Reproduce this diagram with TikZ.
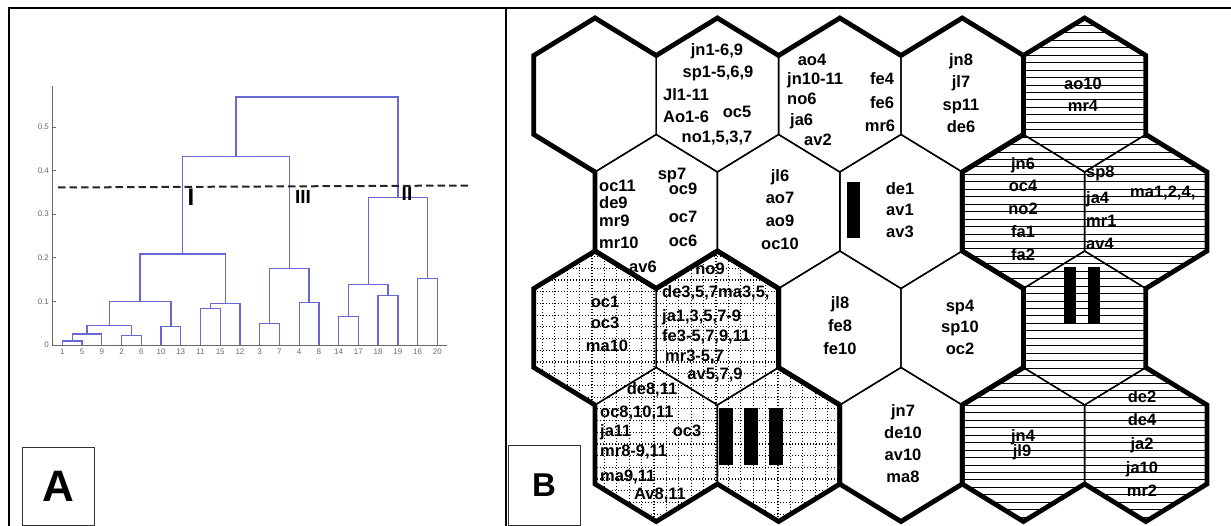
\documentclass[tikz,border=0pt]{standalone}
\usepackage{fontspec}
\setmainfont{Liberation Sans}

\definecolor{dendroblue}{RGB}{104,104,212}
\definecolor{axisgray}{RGB}{105,105,105}

\tikzset{
  frameline/.style={line width=2pt, black},
  panelbox/.style={draw=black!80, line width=1pt, inner sep=0pt},
  hexthin/.style={line width=1.4pt, black},
  hexthick/.style={line width=4.8pt, black, line join=miter},
  gridline/.style={black, line width=1.2pt, dash pattern=on 1.1pt off 1.9pt},
  stripe/.style={black, line width=1pt},
  hexlab/.style={font=\fontsize{16.5}{16.5}\selectfont\bfseries, inner sep=0pt,
                 text height=11.8pt, text depth=3.6pt},
  dendro/.style={dendroblue, line width=1.3pt},
  axisline/.style={axisgray, line width=0.9pt},
  ticklab/.style={font=\fontsize{8}{8}\selectfont, text=axisgray, inner sep=0pt},
  cutline/.style={black!85, line width=2pt, dash pattern=on 7.5pt off 4pt},
  clusterlab/.style={font=\fontsize{19}{19}\selectfont\bfseries, inner sep=0pt},
}

% contorni dei tre cluster sulla mappa
\newcommand\clusterW{(h11-nw) -- (h11-n) -- (h11-ne) -- (h12-n) -- (h12-ne) -- (h13-n)
  -- (h13-ne) -- (h14-n) -- (h14-ne) -- (h14-se) -- (h14-s) -- (h23-se) -- (h34-ne)
  -- (h34-se) -- (h34-s) -- (h43-se) -- (h43-s) -- (h43-sw) -- (h43-nw) -- (h33-sw)
  -- (h33-nw) -- (h22-sw) -- (h21-s) -- (h21-sw) -- (h21-nw) -- (h11-sw) -- cycle}
\newcommand\clusterD{(h31-n) -- (h31-ne) -- (h32-n) -- (h32-ne) -- (h32-se) -- (h42-ne)
  -- (h42-se) -- (h42-s) -- (h42-sw) -- (h41-s) -- (h41-sw) -- (h41-nw) -- (h31-sw)
  -- (h31-nw) -- cycle}
\newcommand\clusterS{(h15-n) -- (h15-ne) -- (h25-n) -- (h25-ne) -- (h25-se) -- (h25-s)
  -- (h35-se) -- (h45-ne) -- (h45-se) -- (h45-s) -- (h45-sw) -- (h44-s) -- (h44-sw)
  -- (h44-nw) -- (h44-n) -- (h35-nw) -- (h24-s) -- (h24-sw) -- (h24-nw) -- (h24-n)
  -- (h15-nw) -- cycle}

\begin{document}
\begin{tikzpicture}[x=1pt, y=-1pt]
\useasboundingbox (0,0) rectangle (1231,526);

%% ---- Cornice dei pannelli ----
\draw[frameline] (8.7,526) -- (8.7,7.7) -- (1231,7.7);
\draw[frameline] (506,7.7) -- (506,526);

%% ---- Pannello A: dendrogramma ----
\begin{scope}[shift={(42.56pt,-345pt)}, x=19.74pt, y=436pt]
  \draw[axisline] (0.478,0.594) -- (0.478,0) -- (20.49,0);
  \foreach \v [count=\i] in {0,0.1,0.2,0.3,0.4,0.5} {
    \draw[axisline] (0.478,\v) -- ++(0.18,0);
    \node[ticklab, anchor=east] (ytk\i) at (0.33,\v) {\v};
  }
  \foreach \lf [count=\k] in {1,5,9,2,6,10,13,11,15,12,3,7,4,8,14,17,18,19,16,20}
    \node[ticklab] (leaf\k) at (\k,-0.0154) {\lf};
  \foreach \xl/\yl/\xr/\yr/\h in {
      1/0/2/0/0.009, 1.5/0.009/3/0/0.025, 4/0/5/0/0.021, 2.25/0.025/4.5/0.021/0.045,
      6/0/7/0/0.042, 3.375/0.045/6.5/0.042/0.100, 8/0/9/0/0.084, 8.5/0.084/10/0/0.095,
      4.94/0.100/9.25/0.095/0.209, 11/0/12/0/0.050, 13/0/14/0/0.097,
      11.5/0.050/13.5/0.097/0.175, 7.09/0.209/12.5/0.175/0.432, 15/0/16/0/0.065,
      17/0/18/0/0.114, 15.5/0.065/17.5/0.114/0.138, 19/0/20/0/0.153,
      16.5/0.138/19.5/0.153/0.339, 9.8/0.432/18/0.339/0.569}
    \draw[dendro] (\xl,\yl) |- (\xr,\h) -- (\xr,\yr);
\end{scope}

%% ---- Linea di taglio e cluster ----
\draw[cutline] (58,187.5) -- (469,185.5);
\node[clusterlab, font=\fontsize{24}{24}\selectfont\bfseries] (labI) at (191,197) {I};
\node[clusterlab] (labIII) at (303,197) {III};
\node[clusterlab] (labII) at (407,194) {II};

\node[panelbox, minimum width=72pt, minimum height=78pt,
      font=\fontsize{44}{44}\selectfont\bfseries] (boxA) at (58,486) {A};

%% ---- Pannello B: mappa esagonale (righe 1-4, colonne 1-5) ----
\foreach \r in {1,...,4} {
  \foreach \c in {1,...,5} {
    \pgfmathsetmacro{\hx}{595+122.4*(\c-1)+61.2*(1-mod(\r,2))}
    \pgfmathsetmacro{\hy}{95+116.5*(\r-1)}
    \coordinate (h\r\c)    at (\hx,\hy);
    \coordinate (h\r\c-n)  at (\hx,\hy-77);
    \coordinate (h\r\c-ne) at (\hx+61.2,\hy-39.5);
    \coordinate (h\r\c-se) at (\hx+61.2,\hy+39.5);
    \coordinate (h\r\c-s)  at (\hx,\hy+77);
    \coordinate (h\r\c-sw) at (\hx-61.2,\hy+39.5);
    \coordinate (h\r\c-nw) at (\hx-61.2,\hy-39.5);
  }
}

%% ---- Riempimenti ----
\begin{scope}
  \clip \clusterD;
  \foreach \gx in {0,...,26} \draw[gridline] ({530+12.4*\gx},240) -- ({530+12.4*\gx},526);
  \foreach \gy in {0,...,24} \draw[gridline] (525,{245+11.7*\gy}) -- (850,{245+11.7*\gy});
\end{scope}
\begin{scope}
  \clip \clusterS;
  \foreach \sy in {0,...,68} \draw[stripe] (955,{18+7.45*\sy}) -- (1215,{18+7.45*\sy});
\end{scope}

%% ---- Bordi ----
\foreach \r in {1,...,4} \foreach \c in {1,...,5}
  \draw[hexthin] (h\r\c-n) -- (h\r\c-ne) -- (h\r\c-se) -- (h\r\c-s)
                 -- (h\r\c-sw) -- (h\r\c-nw) -- cycle;
\draw[hexthick] \clusterW;
\draw[hexthick] \clusterD;
\draw[hexthick] \clusterS;

%% ---- Barre dei cluster ----
\fill[black] (847,182) rectangle (860,238);
\fill[black] (1064,267) rectangle (1076,323);
\fill[black] (1088,267) rectangle (1100,323);
\fill[black] (719,408) rectangle (733,465);
\fill[black] (744,408) rectangle (758,465);
\fill[black] (769,408) rectangle (783,465);

%% ---- Etichette riga 1 ----
\node[hexlab] (t12a) at (717,51) {jn1-6,9};
\node[hexlab] (t12b) at (718,73) {sp1-5,6,9};
\node[hexlab, anchor=west] (t12c) at (663,96) {Jl1-11};
\node[hexlab, anchor=west] (t12d) at (663,118) {Ao1-6};
\node[hexlab] (t12e) at (737,113) {oc5};
\node[hexlab] (t12f) at (717,138) {no1,5,3,7};

\node[hexlab] (t13a) at (812,61) {ao4};
\node[hexlab, anchor=west] (t13b) at (787,80) {jn10-11};
\node[hexlab, anchor=west] (t13c) at (787,100) {no6};
\node[hexlab, anchor=west] (t13d) at (790,121) {ja6};
\node[hexlab] (t13e) at (818,141) {av2};
\node[hexlab] (t13f) at (882,80) {fe4};
\node[hexlab] (t13g) at (882,104) {fe6};
\node[hexlab] (t13h) at (880,127) {mr6};

\foreach \t [count=\i] in {jn8,jl7,sp11,de6}
  \node[hexlab] (t14\i) at (961,{61.7+22.2*(\i-1)}) {\t};
\node[hexlab] (t15a) at (1083,85) {ao10};
\node[hexlab] (t15b) at (1083,107) {mr4};

%% ---- Etichette riga 2 ----
\foreach \t/\ty [count=\i] in {oc11/187,de9/204,mr9/222,mr10/244}
  \node[hexlab, anchor=west] (t21l\i) at (599,\ty) {\t};
\node[hexlab] (t21a) at (672,175) {sp7};
\foreach \t/\ty [count=\i] in {oc9/190,oc7/218,oc6/242}
  \node[hexlab] (t21r\i) at (683,\ty) {\t};
\node[hexlab] (t21b) at (643,268) {av6};

\foreach \t [count=\i] in {jl6,ao7,ao9,oc10}
  \node[hexlab] (t22\i) at (780,{177+22.7*(\i-1)}) {\t};
\foreach \t [count=\i] in {de1,av1,av3}
  \node[hexlab] (t23\i) at (900,{190+21.5*(\i-1)}) {\t};
\foreach \t [count=\i] in {jn6,oc4,no2,fa1,fa2}
  \node[hexlab] (t24\i) at (1023,{165+22.8*(\i-1)}) {\t};
\foreach \t/\ty [count=\i] in {sp8/173,ja4/199,mr1/222,av4/245}
  \node[hexlab, anchor=west] (t25\i) at (1086,\ty) {\t};
\node[hexlab, anchor=west] (t25a) at (1130,193) {ma1,2,4,};

%% ---- Etichette riga 3 ----
\node[hexlab] (t31a) at (605,303) {oc1};
\node[hexlab] (t31b) at (605,324) {oc3};
\node[hexlab] (t31c) at (607,347) {ma10};

\node[hexlab] (t32a) at (710,270) {no9};
\node[hexlab, anchor=west] (t32b) at (662,293) {de3,5,7ma3,5,};
\node[hexlab, anchor=west] (t32c) at (662,317) {ja1,3,5,7-9};
\node[hexlab, anchor=west] (t32d) at (662,337) {fe3-5,7,9,11};
\node[hexlab, anchor=west] (t32e) at (665,357) {mr3-5,7};
\node[hexlab] (t32f) at (715,375) {av5,7,9};

\foreach \t [count=\i] in {jl8,fe8,fe10}
  \node[hexlab] (t33\i) at (840,{304+23*(\i-1)}) {\t};
\foreach \t [count=\i] in {sp4,sp10,oc2}
  \node[hexlab] (t34\i) at (960,{307+21.5*(\i-1)}) {\t};

%% ---- Etichette riga 4 ----
\node[hexlab] (t41a) at (652,390) {de8,11};
\node[hexlab, anchor=west] (t41b) at (600,413) {oc8,10,11};
\node[hexlab, anchor=west] (t41c) at (600,432) {ja11};
\node[hexlab] (t41d) at (687,432) {oc3};
\node[hexlab, anchor=west] (t41e) at (600,452) {mr8-9,11};
\node[hexlab, anchor=west] (t41f) at (600,477) {ma9,11};
\node[hexlab] (t41g) at (660,495) {Av8,11};

\foreach \t [count=\i] in {jn7,de10,av10,ma8}
  \node[hexlab] (t43\i) at (903,{412+22*(\i-1)}) {\t};
\node[hexlab] (t44a) at (1023,437) {jn4};
\node[hexlab] (t44b) at (1022,452) {jl9};
\foreach \t [count=\i] in {de2,de4,ja2,ja10,mr2}
  \node[hexlab] (t45\i) at (1142,{398+23.7*(\i-1)}) {\t};

\node[panelbox, minimum width=72pt, minimum height=80pt,
      font=\fontsize{33}{33}\selectfont\bfseries] (boxB) at (544,485) {B};

\end{tikzpicture}
\end{document}
